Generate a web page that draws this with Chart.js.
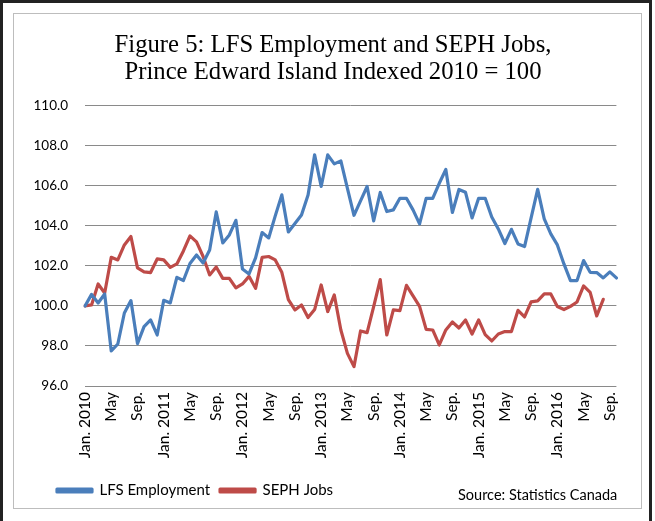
<!DOCTYPE html>
<html>
<head>
<meta charset="utf-8">
<script src="https://cdn.jsdelivr.net/npm/chart.js@4"></script>
<style>
  html, body { margin: 0; padding: 0; background: #fff; }
  #outer { position: absolute; left: 0; top: 0; width: 652px; height: 521px; box-sizing: border-box;
           border-left: 3px solid #222; border-top: 3px solid #222; border-right: 3px solid #222; }
  #inner { position: absolute; left: 13px; top: 13px; width: 629px; height: 496px; box-sizing: border-box;
           border: 1px solid #bdbdbd; }
  #wrap { position: absolute; left: 14px; top: 14px; width: 627px; height: 494px; }
</style>
</head>
<body>
<div id="outer"></div>
<div id="inner"></div>
<div id="wrap"><canvas id="c" width="627" height="494"></canvas></div>
<script>
const categories = [
 "Jan. 2010","Feb.","Mar.","Apr.","May","Jun.","Jul.","Aug.","Sep.","Oct.","Nov.","Dec.",
 "Jan. 2011","Feb.","Mar.","Apr.","May","Jun.","Jul.","Aug.","Sep.","Oct.","Nov.","Dec.",
 "Jan. 2012","Feb.","Mar.","Apr.","May","Jun.","Jul.","Aug.","Sep.","Oct.","Nov.","Dec.",
 "Jan. 2013","Feb.","Mar.","Apr.","May","Jun.","Jul.","Aug.","Sep.","Oct.","Nov.","Dec.",
 "Jan. 2014","Feb.","Mar.","Apr.","May","Jun.","Jul.","Aug.","Sep.","Oct.","Nov.","Dec.",
 "Jan. 2015","Feb.","Mar.","Apr.","May","Jun.","Jul.","Aug.","Sep.","Oct.","Nov.","Dec.",
 "Jan. 2016","Feb.","Mar.","Apr.","May","Jun.","Jul.","Aug.","Sep.","Oct."
];

const lfsEmployment = [
 100.0,100.58,100.15,100.6,97.75,98.1,99.65,100.27,98.12,98.97,99.3,98.55,
 100.28,100.15,101.43,101.27,102.12,102.55,102.15,102.8,104.7,103.15,103.55,104.28,
 101.85,101.6,102.4,103.67,103.4,104.5,105.55,103.7,104.12,104.55,105.55,107.55,
 105.97,107.55,107.1,107.25,105.88,104.53,105.25,105.97,104.25,105.67,104.72,104.8,
 105.38,105.38,104.8,104.1,105.38,105.38,106.13,106.82,104.67,105.82,105.68,104.4,
 105.38,105.38,104.45,103.85,103.12,103.83,103.1,102.97,104.4,105.83,104.35,103.6,
 103.05,102.1,101.27,101.27,102.27,101.68,101.67,101.4,101.7,101.4
];

const sephJobs = [
 100.0,100.05,101.1,100.65,102.43,102.3,103.05,103.47,101.9,101.7,101.67,102.35,
 102.3,101.93,102.1,102.75,103.5,103.2,102.47,101.55,101.95,101.38,101.38,100.9,
 101.1,101.48,100.88,102.43,102.47,102.3,101.68,100.32,99.8,100.05,99.42,99.82,
 101.05,99.72,100.55,98.8,97.63,96.97,98.75,98.67,99.97,101.32,98.55,99.8,
 99.77,101.03,100.5,99.98,98.83,98.8,98.05,98.8,99.2,98.9,99.3,98.6,
 99.3,98.57,98.25,98.6,98.72,98.72,99.78,99.45,100.2,100.25,100.6,100.6,
 99.97,99.82,99.98,100.2,101.0,100.68,99.5,100.33
];

const yTicks = { min: 96, max: 110, step: 2 };
const titleLines = ["Figure 5: LFS Employment and SEPH Jobs,", "Prince Edward Island Indexed 2010 = 100"];
const seriesNames = ["LFS Employment", "SEPH Jobs"];
const sourceNote = "Source: Statistics Canada";

const BLUE = "#4a7ebb", RED = "#be4b48";

const sourcePlugin = {
  id: "sourceNote",
  afterLayout(chart) {
    // shift the legend so its first sample starts where the reference's does
    if (chart.legend) {
      const w = chart.legend.right - chart.legend.left;
      chart.legend.left = 33;
      chart.legend.right = 33 + w;
    }
    // centre the title over the same span as the reference
    if (chart.titleBlock) {
      chart.titleBlock.left = 26;
      chart.titleBlock.right = 612;
    }
  },
  afterDraw(chart) {
    const ctx = chart.ctx;
    ctx.save();
    ctx.font = "14.5px Lato";
    ctx.fillStyle = "#000";
    ctx.textBaseline = "middle";
    ctx.textAlign = "left";
    ctx.fillText(sourceNote, 444, 481);
    ctx.restore();
  }
};

new Chart(document.getElementById("c"), {
  type: "line",
  data: {
    labels: categories,
    datasets: [
      { label: seriesNames[0], data: lfsEmployment, borderColor: BLUE, backgroundColor: BLUE,
        borderWidth: 3.2, pointRadius: 0, tension: 0, borderJoinStyle: "round", borderCapStyle: "round" },
      { label: seriesNames[1], data: sephJobs, borderColor: RED, backgroundColor: RED,
        borderWidth: 3.2, pointRadius: 0, tension: 0, borderJoinStyle: "round", borderCapStyle: "round" }
    ]
  },
  options: {
    responsive: false,
    animation: false,
    devicePixelRatio: 1,
    layout: { padding: { left: 0, right: 15, top: 0, bottom: 0 } },
    plugins: {
      title: {
        display: true,
        text: titleLines,
        color: "#000",
        font: { family: "'Liberation Serif', 'DejaVu Serif', serif", size: 24.7, weight: "normal", lineHeight: 1.09 },
        padding: { top: 18, bottom: 20 }
      },
      legend: {
        display: true,
        position: "bottom",
        align: "start",
        labels: {
          boxWidth: 35, boxHeight: 3, padding: 10, color: "#000",
          font: { family: "Lato", size: 15 }
        }
      },
      tooltip: { enabled: false }
    },
    scales: {
      x: {
        type: "category",
        offset: false,
        grid: { display: false, drawTicks: false },
        border: { display: false },
        afterFit(scale) { scale.height = 87; },
        ticks: {
          autoSkip: false, minRotation: 90, maxRotation: 90, padding: 6, color: "#000",
          font: { family: "Lato", size: 15.5 },
          callback(value, index) { return index % 4 === 0 ? categories[index] : ""; }
        }
      },
      y: {
        min: yTicks.min, max: yTicks.max,
        afterFit(scale) { scale.width = 71; },
        grid: { color: "#8a8a8a", lineWidth: 1, drawTicks: false },
        border: { display: false },
        ticks: {
          stepSize: yTicks.step, padding: 17, color: "#000",
          font: { family: "Lato", size: 13.5 },
          callback(v) { return Number(v).toFixed(1); }
        }
      }
    }
  },
  plugins: [sourcePlugin]
});
</script>
</body>
</html>
